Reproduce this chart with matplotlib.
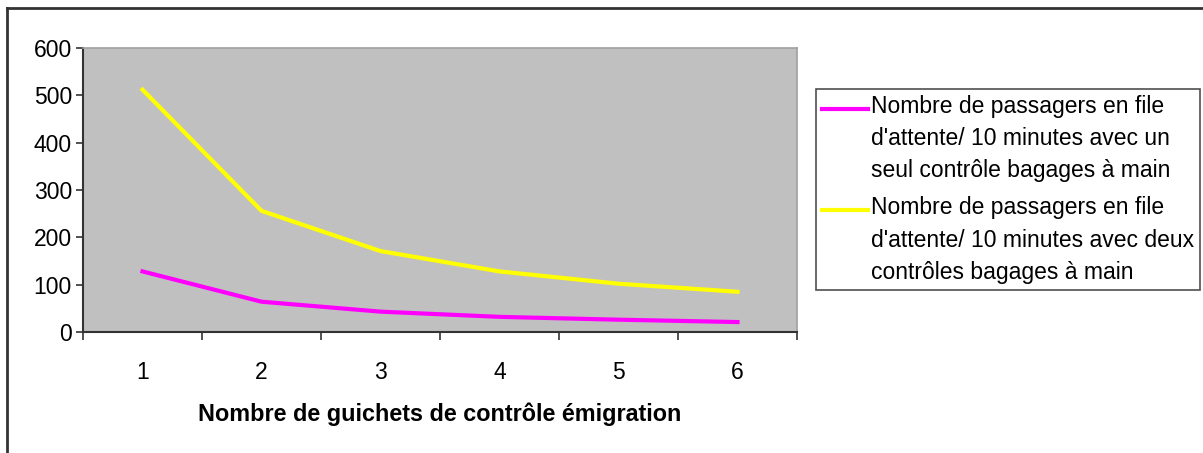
import numpy as np
import matplotlib.pyplot as plt
from matplotlib.lines import Line2D
from matplotlib.legend_handler import HandlerLine2D

plt.rcParams['font.family'] = ['Liberation Sans', 'DejaVu Sans']

guichets = [1, 2, 3, 4, 5, 6]
un_controle = [128, 64, 43, 32, 26, 21]
deux_controles = [512, 256, 171, 128, 102, 85]
label_un = "Nombre de passagers en file\nd'attente/ 10 minutes avec un\nseul contrôle bagages à main"
label_deux = "Nombre de passagers en file\nd'attente/ 10 minutes avec deux\ncontrôles bagages à main"

LEG_FS = 16.5
LSP = 1.52
LINE_PT = 22  # height of one legend text line, in points


class TopLineHandler(HandlerLine2D):
    # put the legend line next to the first text line instead of the middle
    def create_artists(self, legend, orig_handle, xdescent, ydescent,
                       width, height, fontsize, trans):
        arts = super().create_artists(legend, orig_handle, xdescent, ydescent,
                                      width, height, fontsize, trans)
        for a in arts:
            a.set_ydata(np.asarray(a.get_ydata()) + LINE_PT)
        return arts


fig = plt.figure(figsize=(12.03, 4.53), dpi=100)
ax = fig.add_axes([83/1203, 1 - 332/453, (797 - 83)/1203, (332 - 48)/453])
ax.set_facecolor('#c0c0c0')

l1, = ax.plot(guichets, un_controle, color='#ff00ff', lw=3, label=label_un)
l2, = ax.plot(guichets, deux_controles, color='#ffff00', lw=3, label=label_deux)

ax.set_xlim(0.5, 6.5)
ax.set_ylim(0, 600)
ax.set_yticks(np.arange(0, 601, 100))
ax.set_xticks(guichets)
ax.set_xticks(np.arange(0.5, 6.6, 1), minor=True)
ax.tick_params(axis='x', which='major', length=0, pad=21, labelsize=16.5)
ax.tick_params(axis='x', which='minor', length=6, width=1.2, color='#333333')
ax.tick_params(axis='y', length=5, width=1.2, color='#333333', labelsize=16.5, pad=3)

for s in ['left', 'bottom']:
    ax.spines[s].set_color('#333333')
    ax.spines[s].set_linewidth(1.5)
for s in ['top', 'right']:
    ax.spines[s].set_color('#a0a0a0')
    ax.spines[s].set_linewidth(1.2)

ax.set_xlabel("Nombre de guichets de contrôle émigration", fontsize=16.8,
              fontweight='bold', labelpad=13)

leg = fig.legend(handles=[l1, l2], loc='upper left',
                 bbox_to_anchor=(816/1203, 1 - 89/453),
                 fontsize=LEG_FS, frameon=True, fancybox=False, handlelength=2.0,
                 handletextpad=0.15, borderpad=0.25, labelspacing=0.6,
                 borderaxespad=0,
                 handler_map={Line2D: TopLineHandler()})
for t in leg.get_texts():
    t.set_linespacing(LSP)
leg.get_frame().set_edgecolor('#222222')
leg.get_frame().set_linewidth(1.2)

# outer frame (top and left edges visible)
fig.add_artist(Line2D([7/1203, 1], [1 - 8/453, 1 - 8/453], transform=fig.transFigure,
                      color='#333333', lw=2))
fig.add_artist(Line2D([7/1203, 7/1203], [0, 1 - 8/453], transform=fig.transFigure,
                      color='#333333', lw=2))

fig.savefig('out.png', dpi=100)
